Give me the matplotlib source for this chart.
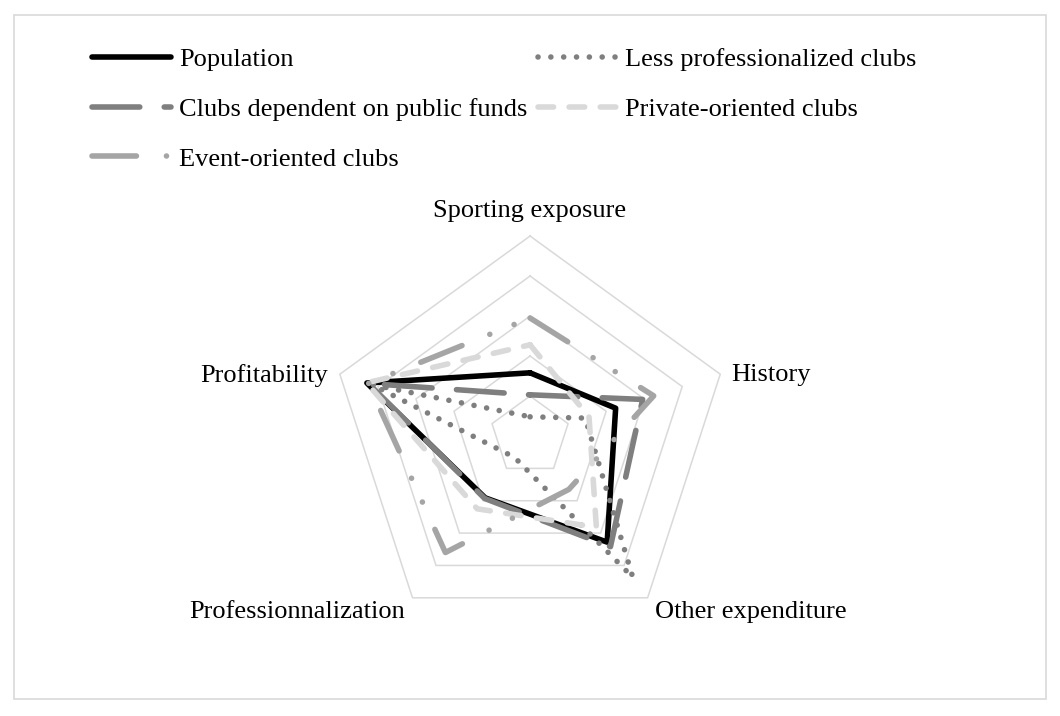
import numpy as np
import matplotlib
matplotlib.use("Agg")
import matplotlib.pyplot as plt
from matplotlib.patches import Rectangle

# ---- data -------------------------------------------------------------
categories = ["Sporting exposure", "History", "Other expenditure",
              "Professionnalization", "Profitability"]
population = [1.58, 2.25, 3.28, 1.91, 4.29]
less_professionalized = [0.48, 1.45, 4.37, 0.66, 4.16]
public_funds = [1.03, 2.96, 3.42, 1.93, 4.25]
private_oriented = [2.28, 1.55, 2.82, 2.25, 4.30]
event_oriented = [2.95, 3.25, 1.65, 3.60, 4.25]
grid_levels = [1, 2, 3, 4, 5]

series_names = ["Population", "Less professionalized clubs",
                "Clubs dependent on public funds", "Private-oriented clubs",
                "Event-oriented clubs"]
series_values = [population, less_professionalized, public_funds,
                 private_oriented, event_oriented]

# ---- styles -----------------------------------------------------------
LW = 4.0
styles = [
    dict(color="#000000", linestyle="-"),
    dict(color="#7f7f7f", linestyle=(0, (0.01, 2.3))),
    dict(color="#7f7f7f", linestyle=(0, (8.6, 4.4))),
    dict(color="#d9d9d9", linestyle=(0, (2.8, 2.8))),
    dict(color="#a5a5a5", linestyle=(0, (8, 5.4, 0.01, 4.7, 0.01, 5.4))),
]

plt.rcParams["font.family"] = ["Liberation Serif", "DejaVu Serif"]
FS = 19

fig = plt.figure(figsize=(10.6, 7.16), dpi=100)
ax = fig.add_axes([0.2925, 0.0838, 0.4151, 0.6145])
ax.set_xlim(-5.5, 5.5)
ax.set_ylim(-5.5, 5.5)
ax.axis("off")

n = len(categories)
theta = np.deg2rad(90 - 72 * np.arange(n))
theta_closed = np.append(theta, theta[0])

# grid pentagons
for lev in grid_levels:
    r = np.full(n + 1, lev, dtype=float)
    ax.plot(r * np.cos(theta_closed), r * np.sin(theta_closed),
            color="#d9d9d9", lw=1.1, zorder=1)

# series
lines = []
for i, (name, vals, st) in enumerate(zip(series_names, series_values, styles)):
    v = np.append(vals, vals[0])
    ln, = ax.plot(v * np.cos(theta_closed), v * np.sin(theta_closed),
                  lw=LW, label=name, dash_capstyle="round",
                  solid_capstyle="round", solid_joinstyle="round",
                  dash_joinstyle="round", zorder=2 + i, **st)
    lines.append(ln)

# category labels
for k, (cat, th) in enumerate(zip(categories, theta)):
    if k == 0:
        ax.text(0, 5.62, cat, ha="center", va="center", fontsize=FS)
    else:
        r = 5.3
        x, y = r * np.cos(th), r * np.sin(th) - 0.12
        ax.text(x, y, cat, ha="left" if x > 0 else "right", va="center",
                fontsize=FS)

# legend (column-major order for 2 columns)
order = [0, 2, 4, 1, 3]
fig.legend([lines[i] for i in order], [series_names[i] for i in order],
           loc="upper left", bbox_to_anchor=(92 / 1060, 1 - 48 / 716),
           ncol=2, frameon=False, fontsize=FS, handlelength=3.0,
           handletextpad=0.3, columnspacing=0.4, labelspacing=0.99,
           borderpad=0, borderaxespad=0)

# outer border
fig.patches.append(Rectangle((14 / 1060, 1 - 699 / 716), 1032 / 1060,
                             684 / 716, transform=fig.transFigure,
                             fill=False, ec="#d9d9d9", lw=1.2))

fig.savefig("out.png", dpi=100, facecolor="white")
